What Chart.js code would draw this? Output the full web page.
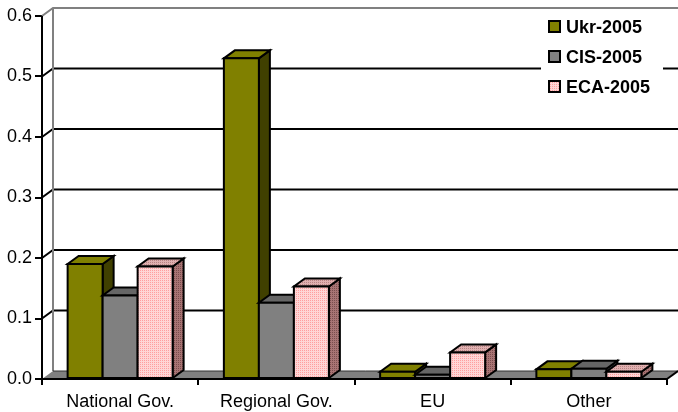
<!DOCTYPE html>
<html>
<head>
<meta charset="utf-8">
<script src="https://cdn.jsdelivr.net/npm/chart.js@4/dist/chart.umd.min.js"></script>
<style>
  html, body { margin: 0; padding: 0; background: #fff; }
  #wrap { width: 678px; height: 412px; }
</style>
</head>
<body>
<div id="wrap"><canvas id="c" width="678" height="412"></canvas></div>
<script>
// ---- data ----
const categories = ['National Gov.', 'Regional Gov.', 'EU', 'Other'];
const seriesNames = ['Ukr-2005', 'CIS-2005', 'ECA-2005'];
const ukr2005 = [0.19, 0.53, 0.012, 0.016];
const cis2005 = [0.138, 0.126, 0.007, 0.017];
const eca2005 = [0.186, 0.153, 0.044, 0.012];
const yTicks = [0, 0.1, 0.2, 0.3, 0.4, 0.5, 0.6];

// ---- styling ----
const FONT = "'Liberation Sans', Arial, Helvetica, sans-serif";
const DX = 11, DY = -8;

function pattern(a, b) {
  const c = document.createElement('canvas');
  c.width = 2; c.height = 2;
  const x = c.getContext('2d');
  x.fillStyle = b; x.fillRect(0, 0, 2, 2);
  x.fillStyle = a; x.fillRect(0, 0, 1, 1);
  return document.getElementById('c').getContext('2d').createPattern(c, 'repeat');
}

const faceStyles = [
  { front: '#808000', top: '#808000', side: '#404000' },
  { front: '#808080', top: '#666666', side: '#4d4d4d' },
  { front: pattern('#ff9f9f', '#ffd6d6'), top: pattern('#b88484', '#e0b0b0'), side: pattern('#7a4d4d', '#a87474') }
];
const legendSwatch = ['#808000', '#808080', pattern('#ff9f9f', '#ffd6d6')];

const threeD = {
  id: 'threeD',
  beforeDatasetsDraw(chart) {
    const ctx = chart.ctx;
    const ca = chart.chartArea;
    const ys = chart.scales.y;
    const base = ys.getPixelForValue(0);
    const top = ys.getPixelForValue(0.6);
    ctx.save();
    ctx.lineJoin = 'miter';
    // back wall gridlines
    ctx.strokeStyle = '#000';
    ctx.lineWidth = 2;
    yTicks.forEach(v => {
      if (v === 0 || v === 0.6) return;
      const y = ys.getPixelForValue(v);
      ctx.beginPath();
      ctx.moveTo(ca.left, y);
      ctx.lineTo(ca.left + DX, y + DY);
      ctx.lineTo(ca.right + DX, y + DY);
      ctx.stroke();
    });
    // wall borders (gray)
    ctx.strokeStyle = '#808080';
    ctx.lineWidth = 2;
    ctx.beginPath();
    ctx.moveTo(ca.left, top);
    ctx.lineTo(ca.left + DX, top + DY);
    ctx.lineTo(ca.right + DX, top + DY);
    ctx.stroke();
    ctx.beginPath();
    ctx.moveTo(ca.left + DX, top + DY);
    ctx.lineTo(ca.left + DX, base + DY);
    ctx.stroke();
    // floor
    ctx.fillStyle = '#808080';
    ctx.beginPath();
    ctx.moveTo(ca.left, base);
    ctx.lineTo(ca.right, base);
    ctx.lineTo(ca.right + DX, base + DY);
    ctx.lineTo(ca.left + DX, base + DY);
    ctx.closePath();
    ctx.fill();
    ctx.strokeStyle = '#333';
    ctx.lineWidth = 1;
    ctx.beginPath();
    ctx.moveTo(ca.left + DX, base + DY);
    ctx.lineTo(ca.right + DX, base + DY);
    ctx.stroke();
    ctx.strokeStyle = '#000';
    ctx.lineWidth = 2;
    ctx.beginPath();
    ctx.moveTo(ca.right, base);
    ctx.lineTo(ca.right + DX, base + DY);
    ctx.stroke();
    // axes
    ctx.beginPath();
    ctx.moveTo(ca.left, top);
    ctx.lineTo(ca.left, base);
    ctx.lineTo(ca.right, base);
    ctx.stroke();

    // bars, drawn left to right
    const bars = [];
    chart.data.datasets.forEach((ds, di) => {
      const meta = chart.getDatasetMeta(di);
      if (meta.hidden) return;
      meta.data.forEach(el => {
        const p = el.getProps(['x', 'y', 'base', 'width'], true);
        bars.push({ di, x: p.x, y: p.y, b: p.base, w: p.width });
      });
    });
    bars.sort((a, b) => a.x - b.x);
    ctx.lineWidth = 2;
    ctx.strokeStyle = '#000';
    bars.forEach(bar => {
      const st = faceStyles[bar.di];
      const l = bar.x - bar.w / 2, r = bar.x + bar.w / 2;
      // side
      ctx.beginPath();
      ctx.moveTo(r, bar.y);
      ctx.lineTo(r + DX, bar.y + DY);
      ctx.lineTo(r + DX, bar.b + DY);
      ctx.lineTo(r, bar.b);
      ctx.closePath();
      ctx.fillStyle = st.side; ctx.fill(); ctx.stroke();
      // top
      ctx.beginPath();
      ctx.moveTo(l, bar.y);
      ctx.lineTo(r, bar.y);
      ctx.lineTo(r + DX, bar.y + DY);
      ctx.lineTo(l + DX, bar.y + DY);
      ctx.closePath();
      ctx.fillStyle = st.top; ctx.fill(); ctx.stroke();
      // front
      ctx.beginPath();
      ctx.rect(l, bar.y, r - l, bar.b - bar.y);
      ctx.fillStyle = st.front; ctx.fill(); ctx.stroke();
    });
    ctx.restore();
    return false;
  },
  afterDraw(chart) {
    const ctx = chart.ctx;
    ctx.save();
    ctx.fillStyle = '#fff';
    ctx.fillRect(541, 11, 122, 90);
    const rows = [27, 57, 87];
    seriesNames.forEach((name, i) => {
      ctx.fillStyle = legendSwatch[i];
      ctx.fillRect(549, rows[i] - 6, 11, 11);
      ctx.strokeStyle = '#000';
      ctx.lineWidth = 2;
      ctx.strokeRect(549, rows[i] - 6, 11, 11);
      ctx.fillStyle = '#000';
      ctx.font = 'bold 18px ' + FONT;
      ctx.textBaseline = 'middle';
      ctx.textAlign = 'left';
      ctx.fillText(name, 566, rows[i] + 1);
    });
    ctx.restore();
  }
};

Chart.defaults.font.family = FONT;
Chart.defaults.font.size = 18;
Chart.defaults.color = '#000';

new Chart(document.getElementById('c'), {
  type: 'bar',
  data: {
    labels: categories,
    datasets: [
      { label: seriesNames[0], data: ukr2005, backgroundColor: '#808000' },
      { label: seriesNames[1], data: cis2005, backgroundColor: '#808080' },
      { label: seriesNames[2], data: eca2005, backgroundColor: '#ffcccc' }
    ]
  },
  options: {
    responsive: false,
    devicePixelRatio: 1,
    animation: false,
    layout: { padding: { top: 16, right: 11, left: 0, bottom: 0 } },
    datasets: { bar: { categoryPercentage: 0.672, barPercentage: 1 } },
    plugins: { legend: { display: false }, tooltip: { enabled: false } },
    scales: {
      x: {
        grid: { drawOnChartArea: false, drawTicks: true, tickLength: 6, color: '#000', lineWidth: 2, offset: true },
        border: { display: true, color: '#000', width: 2 },
        ticks: { padding: 6, maxRotation: 0, autoSkip: false, font: { size: 18 } },
        afterFit: s => { s.height = 33; }
      },
      y: {
        min: 0, max: 0.6,
        afterBuildTicks: s => { s.ticks = yTicks.map(v => ({ value: v })); },
        grid: { drawOnChartArea: false, drawTicks: true, tickLength: 7, color: '#000', lineWidth: 2 },
        border: { display: true, color: '#000', width: 2 },
        ticks: { padding: 3, callback: v => Number(v).toFixed(1), font: { size: 18 } },
        afterFit: s => { s.width = 42; }
      }
    }
  },
  plugins: [threeD]
});
</script>
</body>
</html>
